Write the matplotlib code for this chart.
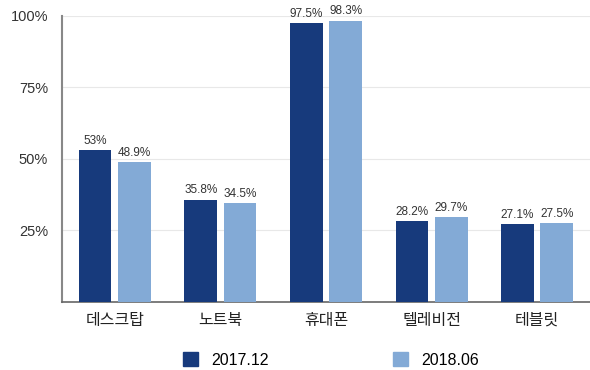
import numpy as np
import matplotlib
matplotlib.use("Agg")
import matplotlib.pyplot as plt
from matplotlib.patches import Patch

plt.rcParams['font.family'] = ['Noto Sans CJK KR', 'DejaVu Sans']

categories = ["데스크탑", "노트북", "휴대폰", "텔레비전", "테블릿"]
series_names = ["2017.12", "2018.06"]
values_2017 = [53.0, 35.8, 97.5, 28.2, 27.1]
values_2018 = [48.9, 34.5, 98.3, 29.7, 27.5]
value_labels_2017 = ["53%", "35.8%", "97.5%", "28.2%", "27.1%"]
value_labels_2018 = ["48.9%", "34.5%", "98.3%", "29.7%", "27.5%"]
yticks = [25, 50, 75, 100]

dark = "#173a7c"
light = "#83aad6"

fig = plt.figure(figsize=(5.9, 3.7), dpi=100)
ax = fig.add_axes([0.105, 0.184, 0.895, 0.773])

x = np.arange(len(categories))
w = 0.31
off = 0.186
b1 = ax.bar(x - off, values_2017, w, color=dark, zorder=3)
b2 = ax.bar(x + off, values_2018, w, color=light, zorder=3)

# percentage labels above each bar
for bars, labels in ((b1, value_labels_2017), (b2, value_labels_2018)):
    for rect, lab in zip(bars, labels):
        ax.text(rect.get_x() + rect.get_width() / 2, rect.get_height() + 1.2, lab,
                ha="center", va="bottom", fontsize=8.5, color="#333333",
                family=["Liberation Sans"])

ax.set_xlim(-0.5, len(categories) - 0.5)
ax.set_ylim(0, 100)
ax.set_yticks(yticks)
ax.set_yticklabels([f"{t}%" for t in yticks], family=["Liberation Sans"])
ax.set_xticks(x)
ax.set_xticklabels(categories, fontsize=11.5, fontweight="medium")
ax.tick_params(axis="y", length=0, pad=10, labelsize=10.5, colors="#333333")
ax.tick_params(axis="x", length=0, pad=7, colors="#222222")
ax.yaxis.grid(True, color="#e8e8e8", lw=0.8, zorder=0)

for s in ("top", "right"):
    ax.spines[s].set_visible(False)
ax.spines["left"].set_color("#888888")
ax.spines["left"].set_linewidth(1.5)
ax.spines["bottom"].set_color("#666666")
ax.spines["bottom"].set_linewidth(1.2)

handles = [Patch(color=dark), Patch(color=light)]
fig.legend(handles, series_names, loc="center", bbox_to_anchor=(0.561, 0.027),
           ncol=2, frameon=False, columnspacing=7.8, handlelength=0.95,
           handleheight=1.0, handletextpad=0.8,
           prop={"family": "Liberation Sans", "size": 11.5})

fig.savefig("out.png", dpi=100)
